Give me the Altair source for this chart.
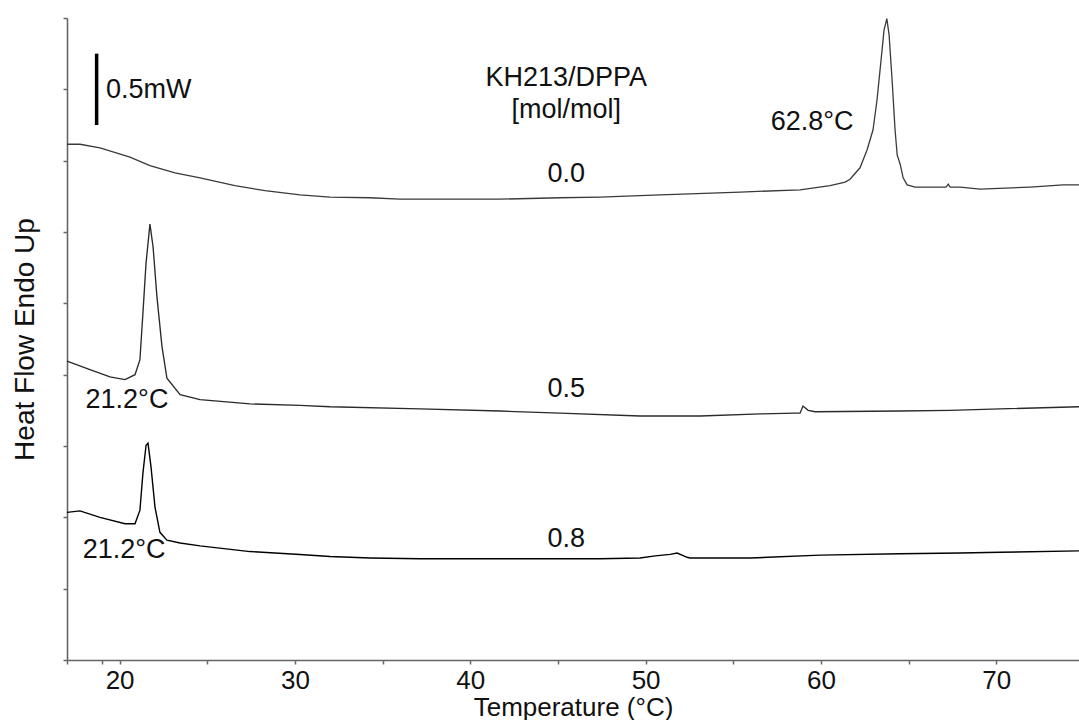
import altair as alt
import pandas as pd

# ---- data (temperature in °C, heat flow in 0.5 mW units, offset traces) ----
t_00 = [17.00, 17.74, 18.88, 20.59, 21.73, 23.16, 24.59, 26.58, 28.29, 30.29, 32.00, 34.28,
        35.99, 37.70, 41.70, 45.12, 47.40, 50.83, 55.40, 58.81, 60.52, 61.38, 61.66, 62.23,
        62.63, 62.97, 63.20, 63.43, 63.60, 63.76, 63.89, 64.06, 64.23, 64.35, 64.52, 64.69,
        64.92, 65.37, 67.14, 67.26, 67.37, 67.94, 69.08, 71.93, 73.81, 74.72]
v_00 = [7.23, 7.23, 7.18, 7.05, 6.93, 6.83, 6.76, 6.65, 6.58, 6.52, 6.49, 6.48,
        6.46, 6.46, 6.46, 6.48, 6.49, 6.52, 6.56, 6.59, 6.65, 6.70, 6.74, 6.90,
        7.15, 7.43, 7.85, 8.41, 8.83, 8.99, 8.76, 8.13, 7.43, 7.08, 6.95, 6.76,
        6.66, 6.63, 6.63, 6.67, 6.63, 6.63, 6.60, 6.63, 6.66, 6.66]

t_05 = [17.00, 18.31, 19.45, 20.31, 20.88, 21.16, 21.33, 21.51, 21.73, 21.91, 22.13, 22.42,
        22.70, 23.45, 24.59, 27.44, 30.29, 32.00, 37.13, 41.70, 45.12, 49.68, 53.12, 56.54,
        58.53, 58.81, 58.98, 59.27, 59.67, 64.52, 67.37, 70.22, 74.72]
v_05 = [4.19, 4.07, 3.97, 3.93, 4.00, 4.21, 4.86, 5.57, 6.11, 5.79, 5.09, 4.39,
        3.95, 3.72, 3.65, 3.59, 3.57, 3.55, 3.52, 3.49, 3.46, 3.42, 3.42, 3.45,
        3.46, 3.46, 3.56, 3.50, 3.48, 3.49, 3.50, 3.52, 3.55]

t_08 = [17.00, 17.74, 18.88, 20.31, 20.88, 21.16, 21.33, 21.51, 21.62, 21.79, 22.02, 22.30,
        22.70, 23.45, 24.59, 27.44, 30.29, 32.00, 34.28, 37.13, 40.56, 43.41, 47.40, 49.68,
        50.55, 51.40, 51.80, 52.37, 52.54, 55.96, 59.95, 64.52, 67.94, 70.22, 74.72]
v_08 = [2.07, 2.09, 2.00, 1.91, 1.91, 2.10, 2.62, 3.01, 3.04, 2.71, 2.14, 1.79,
        1.68, 1.64, 1.60, 1.52, 1.48, 1.45, 1.43, 1.42, 1.42, 1.42, 1.42, 1.43,
        1.46, 1.48, 1.50, 1.44, 1.43, 1.43, 1.47, 1.49, 1.50, 1.51, 1.53]

series_names = ["0.0", "0.5", "0.8"]
series_colors = ["#3a3a3a", "#2a2a2a", "#000000"]
series_widths = [1.3, 1.4, 2.4]

label_text = ["KH213/DPPA", "[mol/mol]", "62.8°C", "0.0", "0.5", "0.8", "21.2°C", "21.2°C"]
label_t = [45.47, 45.47, 59.50, 45.47, 45.47, 45.47, 20.42, 20.26]
label_v = [8.16, 7.71, 7.54, 6.81, 3.80, 1.70, 3.65, 1.54]

bar_t = [18.69]
bar_v0 = [7.50]
bar_v1 = [8.50]
bar_label = ["0.5mW"]
bar_label_t = [19.22]
bar_label_v = [7.99]

x_tick_values = [17, 19, 20, 25, 30, 35, 40, 45, 50, 55, 60, 65, 70]
y_tick_values = [0, 1, 2, 3, 4, 5, 6, 7, 8, 9]

# ---- tables ----
frames = []
for name, ts, vs in [("0.0", t_00, v_00), ("0.5", t_05, v_05), ("0.8", t_08, v_08)]:
    frames.append(pd.DataFrame({"T": ts, "v": vs, "series": name, "i": range(len(ts))}))
curves = pd.concat(frames, ignore_index=True)
labels = pd.DataFrame({"text": label_text, "T": label_t, "v": label_v})
bar = pd.DataFrame({"T": bar_t, "v0": bar_v0, "v1": bar_v1})
bar_lab = pd.DataFrame({"text": bar_label, "T": bar_label_t, "v": bar_label_v})

FONT = "Liberation Sans"

xscale = alt.Scale(domain=[17, 74.72], nice=False, zero=False)
yscale = alt.Scale(domain=[0, 9], nice=False, zero=False)

xaxis = alt.Axis(
    title="Temperature (°C)", values=x_tick_values,
    labelExpr="datum.value % 10 == 0 ? datum.label : ''",
    grid=False, tickSize=4, labelPadding=3, labelFontSize=26, labelFont=FONT,
    labelColor="#111", titleFontSize=26, titleFont=FONT, titleFontWeight="normal",
    titleColor="#111", titleY=47, titleBaseline="middle",
)
yaxis = alt.Axis(
    title="Heat Flow Endo Up", values=y_tick_values, labels=False, grid=False,
    tickSize=4, titleFontSize=28, titleFont=FONT, titleFontWeight="normal",
    titleColor="#111", titleX=-42, titleY=321, titleAngle=-90, titleAlign="center",
    titleBaseline="middle",
)

lines = alt.Chart(curves).mark_line(interpolate="linear").encode(
    x=alt.X("T:Q", scale=xscale, axis=xaxis),
    y=alt.Y("v:Q", scale=yscale, axis=yaxis),
    color=alt.Color("series:N", scale=alt.Scale(domain=series_names, range=series_colors), legend=None),
    strokeWidth=alt.StrokeWidth("series:N", scale=alt.Scale(domain=series_names, range=series_widths), legend=None),
    order="i:Q",
    detail="series:N",
)

texts = alt.Chart(labels).mark_text(
    font=FONT, fontSize=27, color="#111", align="center", baseline="middle"
).encode(x=alt.X("T:Q", scale=xscale), y=alt.Y("v:Q", scale=yscale), text="text:N")

scalebar = alt.Chart(bar).mark_rule(color="#000", strokeWidth=3.5).encode(
    x=alt.X("T:Q", scale=xscale), y=alt.Y("v0:Q", scale=yscale), y2="v1:Q"
)
scalebar_text = alt.Chart(bar_lab).mark_text(
    font=FONT, fontSize=27, color="#111", align="left", baseline="middle"
).encode(x=alt.X("T:Q", scale=xscale), y=alt.Y("v:Q", scale=yscale), text="text:N")

chart = alt.layer(lines, scalebar, texts, scalebar_text).properties(
    width=1012, height=642,
    padding={"left": 67, "top": 18, "right": 0, "bottom": 60},
    autosize=alt.AutoSizeParams(type="none"),
    background="white",
).configure_view(stroke=None).configure_axis(
    domainColor="#666", domainWidth=1.6, tickColor="#666", tickWidth=1.5
)

chart.save("out.html", embed_options={"renderer": "svg", "actions": False})
